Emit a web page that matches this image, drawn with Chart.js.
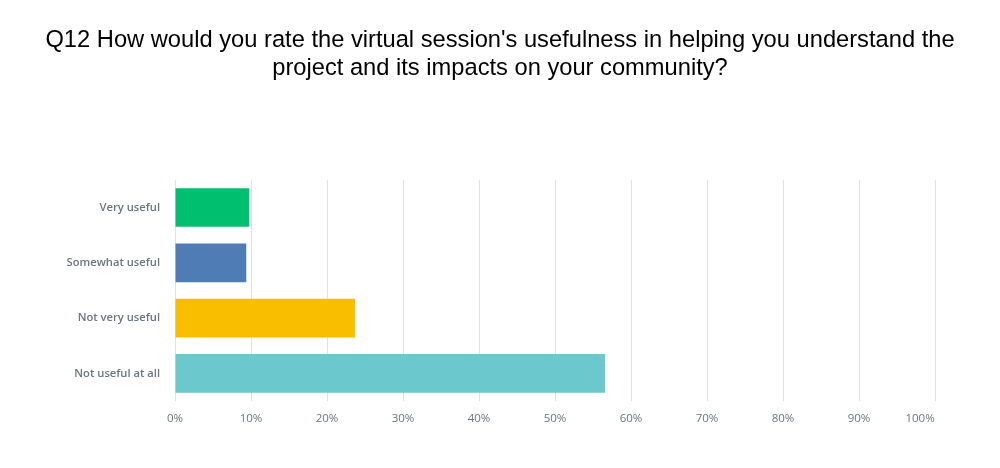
<!DOCTYPE html>
<html>
<head>
<meta charset="utf-8">
<script src="https://cdn.jsdelivr.net/npm/chart.js@4"></script>
<style>
  html, body { margin: 0; padding: 0; background: #fff; }
  #wrap { width: 1000px; height: 468px; }
</style>
</head>
<body>
<div id="wrap"><canvas id="surveyChart"></canvas></div>
<script>
const categories = ['Very useful', 'Somewhat useful', 'Not very useful', 'Not useful at all'];
const percentages = [9.78, 9.38, 23.7, 56.6];
const barColors = ['#00bf6f', '#507cb6', '#f9be00', '#6bc8cd'];
const xTicks = [0, 10, 20, 30, 40, 50, 60, 70, 80, 90, 100];

const titleLines = [
    "Q12 How would you rate the virtual session's usefulness in helping you understand the",
    'project and its impacts on your community?'
];

document.addEventListener("DOMContentLoaded", function () {
    const ctx = document.getElementById('surveyChart').getContext('2d');

    new Chart(ctx, {
        type: 'bar',
        data: {
            labels: categories,
            datasets: [{
                data: percentages,
                backgroundColor: barColors,
                borderWidth: 0,
                barPercentage: 0.7,
                categoryPercentage: 1
            }]
        },
        options: {
            indexAxis: 'y',
            responsive: true,
            maintainAspectRatio: false,
            animation: false,
            layout: {
                padding: { top: 26, right: 0, bottom: 0, left: 0 }
            },
            plugins: {
                legend: { display: false },
                tooltip: { enabled: false },
                title: {
                    display: true,
                    text: titleLines,
                    color: '#000',
                    font: { family: '"Liberation Sans", Arial, sans-serif', size: 23.7, weight: 'normal', lineHeight: 1.2 },
                    padding: { top: 0, bottom: 97 }
                }
            },
            scales: {
                x: {
                    min: 0,
                    max: 100,
                    afterBuildTicks: function (scale) {
                        scale.ticks = xTicks.map(v => ({ value: v }));
                    },
                    afterFit: function (scale) {
                        scale.height = 67;
                        // leave room on the right like the original (100% line at ~935px)
                        scale.paddingLeft = 0;
                        scale.paddingRight = 65;
                    },
                    grid: { color: '#e2e2e2', lineWidth: 1, drawTicks: false },
                    border: { display: false },
                    ticks: {
                        padding: 11,
                        color: '#6a7580',
                        font: { family: '"Open Sans", sans-serif', size: 11.5 },
                        // last label sits left of its grid line in the original
                        callback: v => v === 100 ? v + '%          ' : v + '%'
                    }
                },
                y: {
                    afterFit: function (scale) { scale.width = 175; },
                    grid: { display: false, drawTicks: false },
                    border: { display: false },
                    ticks: {
                        padding: 15,
                        color: '#6a7580',
                        font: { family: '"Open Sans", sans-serif', size: 11.2, weight: '600' }
                    }
                }
            }
        }
    });
});
</script>
</body>
</html>
